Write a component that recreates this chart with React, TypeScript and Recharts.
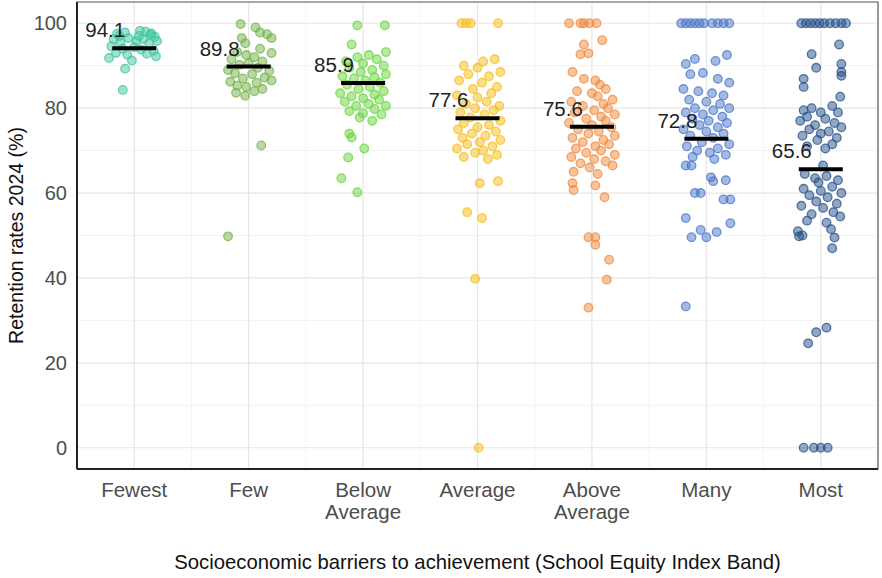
import React from "react";
import {
  ScatterChart,
  Scatter,
  XAxis,
  YAxis,
  CartesianGrid,
  ReferenceArea,
} from "recharts";

// categories (School Equity Index Band)
const bands = ["Fewest", "Few", "Below Average", "Average", "Above Average", "Many", "Most"];
const bandColors = ["#3fc6a0", "#74b24a", "#68d53e", "#f7bd18", "#f08a3c", "#4a76c8", "#24508a"];
const bandMeans = [94.1, 89.8, 85.9, 77.6, 75.6, 72.8, 65.6];
const yTicks = [0, 20, 40, 60, 80, 100];

// school retention rates, [jitter, value] per band
const fewest = [
  [-0.15, 97.5], [-0.08, 97.8], [0.05, 98.2], [0.1, 98], [0.15, 97.6], [0.18, 96.8], [-0.18, 96.2],
  [-0.12, 95.5], [-0.05, 96.5], [0.02, 95.8], [0.08, 96.3], [0.13, 95.2], [0.2, 95.8], [-0.2, 94.6],
  [-0.1, 94], [0.0, 94.4], [0.06, 93.8], [0.17, 93.5], [-0.16, 93], [-0.06, 92.6], [0.11, 92.8],
  [-0.22, 91.8], [-0.02, 91.2], [0.19, 92.2], [-0.08, 89.3], [-0.1, 84.3], [0.04, 97], [-0.13, 97],
  [0.14, 97.3],
];
const few = [
  [-0.07, 99.8], [0.06, 99], [0.16, 97.4], [0.2, 96.5], [-0.03, 95.3], [0.1, 94], [0.2, 93],
  [-0.1, 93.2], [-0.02, 92.5], [0.05, 92], [-0.15, 91.5], [0.12, 91], [0.0, 90.6], [-0.08, 90.2],
  [0.08, 89.5], [-0.18, 89], [0.18, 88.8], [-0.12, 88.2], [0.03, 88], [0.14, 87.2], [-0.05, 87],
  [0.2, 86.5], [-0.16, 86.2], [0.07, 86], [-0.1, 85.3], [0.12, 84.5], [-0.02, 85], [-0.11, 83.6],
  [-0.03, 82.9], [0.05, 84], [0.11, 71.2], [-0.18, 49.8], [0.1, 97.8], [-0.06, 96.5],
];
const belowAverage = [
  [-0.05, 99.5], [0.19, 99.5], [-0.1, 95], [0.2, 93.2], [-0.05, 92], [0.05, 92.5], [0.12, 91.5],
  [-0.15, 91], [0.0, 90.5], [0.18, 90], [-0.12, 89.5], [0.08, 89], [-0.02, 88.5], [0.2, 88],
  [-0.18, 87.5], [0.1, 87.3], [-0.08, 87], [0.02, 86.5], [0.15, 86], [-0.14, 85.5], [0.06, 85],
  [-0.04, 84.5], [0.18, 84], [-0.2, 83.5], [0.1, 83.2], [-0.1, 82.8], [0.0, 82.3], [0.14, 82],
  [-0.16, 81.5], [0.05, 81], [-0.06, 80.5], [0.2, 80.5], [0.1, 79.8], [-0.12, 79.3], [0.0, 78.8],
  [0.16, 78.5], [-0.03, 77.8], [0.08, 77], [-0.1, 73.1], [0.01, 70.5], [-0.13, 68.4], [-0.19, 63.5],
  [-0.05, 60.2], [-0.12, 74],
];
const average = [
  [-0.14, 100], [-0.1, 100], [-0.06, 100], [0.18, 100], [0.05, 91], [0.15, 91.5], [-0.12, 90],
  [0.0, 89.5], [0.2, 88.5], [-0.08, 88], [0.1, 87.5], [-0.16, 86.5], [0.04, 86], [0.17, 85],
  [-0.04, 84.5], [0.12, 83.5], [-0.18, 83], [0.0, 82.5], [0.08, 81.5], [-0.1, 81], [0.19, 80.5],
  [-0.02, 80], [0.14, 79.5], [-0.15, 79], [0.06, 78.5], [-0.06, 77.8], [0.2, 77], [-0.12, 76.5],
  [0.1, 76], [0.0, 75.5], [-0.17, 75], [0.16, 74.5], [-0.05, 74], [0.07, 73.5], [-0.13, 73],
  [0.2, 72.5], [0.02, 72], [-0.09, 71.5], [0.13, 71], [-0.18, 70.5], [0.05, 70], [-0.02, 69.5],
  [0.17, 69], [-0.12, 68.5], [0.09, 68], [0.02, 62.3], [0.18, 62.8], [-0.09, 55.5], [0.04, 54.1],
  [-0.02, 39.8], [0.01, 0],
];
const aboveAverage = [
  [-0.2, 100], [-0.1, 100], [-0.07, 100], [-0.02, 100], [0.04, 100], [0.09, 96], [-0.07, 95],
  [-0.1, 92.7], [-0.03, 92.9], [-0.17, 88.5], [-0.07, 86.9], [0.03, 86.5], [0.07, 85.5], [0.12, 84.5],
  [-0.13, 84], [0.0, 83.5], [0.05, 82.8], [0.18, 82], [-0.18, 81.5], [0.1, 81], [-0.08, 80.5],
  [0.14, 80], [0.02, 79.5], [-0.15, 79], [0.2, 78.5], [0.08, 78], [-0.05, 77.5], [0.12, 77],
  [-0.2, 76.5], [0.0, 76], [0.17, 75.5], [-0.12, 75], [0.06, 74.5], [-0.03, 74], [0.2, 73.5],
  [-0.17, 73], [0.1, 72.5], [-0.08, 72], [0.15, 71.5], [0.03, 71], [-0.14, 70.5], [0.08, 70],
  [-0.05, 69.5], [0.2, 69], [-0.18, 68.5], [0.02, 68], [0.12, 67.5], [-0.1, 67], [0.18, 66.5],
  [-0.02, 66], [-0.16, 65], [0.05, 64.5], [-0.17, 62.3], [-0.16, 60.7], [0.03, 61.8], [0.11, 59],
  [-0.03, 49.6], [0.03, 49.6], [0.03, 47.8], [0.15, 44.3], [0.13, 39.6], [-0.03, 33],
];
const many = [
  [-0.22, 100], [-0.18, 100], [-0.14, 100], [-0.1, 100], [-0.06, 100], [-0.02, 100], [0.05, 100],
  [0.1, 100], [0.15, 100], [0.2, 100],
  [-0.18, 90.4], [-0.1, 91.6], [0.08, 91.1], [0.18, 92.5], [-0.14, 88], [-0.03, 88.3], [0.1, 86.9],
  [0.2, 86], [-0.2, 84.5], [-0.07, 84], [0.05, 83.5], [0.15, 83], [-0.15, 82], [0.0, 81.5],
  [0.12, 81], [-0.1, 80], [0.2, 80], [0.06, 79.5], [-0.18, 79], [-0.03, 78.5], [0.14, 78],
  [-0.12, 77.5], [0.02, 77], [0.18, 76.5], [-0.06, 76], [0.1, 75.5], [-0.2, 75], [0.0, 74.5],
  [0.15, 74], [-0.14, 73.5], [0.06, 73], [-0.04, 72], [0.2, 71.5], [-0.17, 71], [0.1, 70.5],
  [-0.08, 70], [0.03, 69.5], [0.17, 69], [-0.12, 68.5], [0.07, 68], [-0.18, 66.5], [-0.13, 66.5],
  [0.04, 63.7], [0.06, 62.8], [0.17, 63], [-0.1, 60], [-0.05, 60], [0.15, 58.5], [0.21, 58.5],
  [-0.18, 54.1], [-0.13, 49.6], [-0.05, 51.3], [0.0, 49.6], [0.09, 50.8], [0.21, 52.9], [-0.18, 33.3],
];
const most = [
  [-0.17, 100], [-0.13, 100], [-0.09, 100], [-0.05, 100], [-0.01, 100], [0.03, 100], [0.08, 100],
  [0.13, 100], [0.18, 100], [0.22, 100],
  [0.16, 95], [-0.08, 92.7], [-0.04, 89.5], [0.18, 90.4], [0.18, 88.5], [0.18, 87.6], [-0.15, 86.9],
  [-0.15, 85], [0.17, 82.7], [-0.15, 79.5], [-0.08, 80], [0.0, 79], [0.1, 80.5], [0.15, 79],
  [-0.12, 78], [0.04, 77.5], [-0.18, 77], [0.12, 76.5], [-0.05, 76], [0.18, 75.5], [-0.1, 75],
  [0.07, 74.5], [0.0, 74], [-0.16, 73.5], [0.14, 73], [-0.03, 72.5], [0.1, 71.5], [-0.12, 71],
  [0.04, 70.5], [0.02, 66.5], [-0.14, 64.5], [0.05, 64], [-0.05, 63.5], [0.15, 63], [-0.02, 62.5],
  [0.1, 61.5], [-0.15, 61], [0.0, 60.5], [0.18, 60], [-0.1, 59.5], [0.06, 59], [-0.04, 58],
  [0.14, 57.5], [-0.17, 57], [0.02, 56.5], [0.11, 55.5], [-0.08, 55], [0.17, 54.5], [-0.12, 53.5],
  [0.05, 53], [-0.2, 51], [-0.16, 50], [-0.19, 49.8], [0.09, 51.5], [0.12, 49.5], [0.1, 47],
  [-0.11, 24.6], [-0.04, 27.2], [0.05, 28.3], [-0.15, 0], [-0.06, 0], [0.0, 0], [0.06, 0],
];
const bandPoints = [fewest, few, belowAverage, average, aboveAverage, many, most];

const FONT = "'Liberation Sans', Arial, sans-serif";

const BandTick = (props: any) => {
  const { x, y, payload } = props;
  const name = bands[payload.value - 1] || "";
  const lines = name.split(" ");
  return (
    <text x={x} textAnchor="middle" fill="#4d4d4d" fontSize={20.5} fontFamily={FONT}>
      {lines.map((l: string, i: number) => (
        <tspan key={i} x={x} y={y + 28 + i * 22}>{l}</tspan>
      ))}
    </text>
  );
};

const MeanMark = (props: any) => {
  const { cx, cy, payload } = props;
  return (
    <g>
      <line x1={cx - 22} x2={cx + 22} y1={cy} y2={cy} stroke="#000" strokeWidth={4} />
      <text x={cx - 29} y={cy - 11} textAnchor="middle" fontSize={20.5} fill="#1e1e1e" fontFamily={FONT}>
        {payload.label}
      </text>
    </g>
  );
};

export default function App() {
  const meanData = bandMeans.map((m, i) => ({ x: i + 1, y: m, label: m.toFixed(1) }));

  return (
    <div style={{ position: "absolute", left: 0, top: 0, background: "#fff" }}>
      <ScatterChart width={882} height={578} margin={{ top: 2, right: 4, bottom: 0, left: 0 }}>
        <CartesianGrid
          stroke="#f3f3f3"
          strokeWidth={1}
          horizontalValues={[10, 30, 50, 70, 90]}
          verticalValues={[1.5, 2.5, 3.5, 4.5, 5.5, 6.5]}
        />
        <CartesianGrid
          stroke="#e6e6e6"
          strokeWidth={1.2}
          horizontalValues={yTicks}
          verticalValues={[1, 2, 3, 4, 5, 6, 7]}
        />
        <XAxis
          type="number"
          dataKey="x"
          domain={[0.5, 7.5]}
          ticks={[1, 2, 3, 4, 5, 6, 7]}
          allowDataOverflow
          height={109}
          tickLine={false}
          tickSize={0}
          tickMargin={0}
          axisLine={{ stroke: "#222", strokeWidth: 2 }}
          tick={<BandTick />}
          label={{
            value: "Socioeconomic barriers to achievement (School Equity Index Band)",
            position: "insideBottom",
            offset: 9,
            style: { fontSize: 20.3, fill: "#111", fontFamily: FONT },
          }}
        />
        <YAxis
          type="number"
          dataKey="y"
          domain={[-5, 105]}
          ticks={yTicks}
          allowDataOverflow
          width={77}
          tickLine={false}
          tickSize={6}
          tickMargin={4}
          axisLine={{ stroke: "#222", strokeWidth: 2 }}
          tick={{ fontSize: 20, fill: "#4d4d4d", fontFamily: FONT }}
          label={{
            value: "Retention rates 2024 (%)",
            angle: -90,
            position: "insideLeft",
            offset: 16,
            style: { fontSize: 19.5, fill: "#111", fontFamily: FONT, textAnchor: "middle" },
          }}
        />
        <ReferenceArea
          x1={0.5}
          x2={7.5}
          y1={-5}
          y2={105}
          fill="none"
          stroke="#555"
          strokeWidth={1.2}
          ifOverflow="visible"
        />
        {bandPoints.map((pts, i) => (
          <Scatter
            key={bands[i]}
            name={bands[i]}
            data={pts.map(([dx, v]) => ({ x: i + 1 + dx, y: v }))}
            isAnimationActive={false}
            shape={(p: any) => (
              <circle
                cx={p.cx}
                cy={p.cy}
                r={4.3}
                fill={bandColors[i]}
                fillOpacity={0.5}
                stroke={bandColors[i]}
                strokeOpacity={0.75}
                strokeWidth={1.3}
              />
            )}
          />
        ))}
        <Scatter data={meanData} isAnimationActive={false} shape={<MeanMark />} />
      </ScatterChart>
    </div>
  );
}
